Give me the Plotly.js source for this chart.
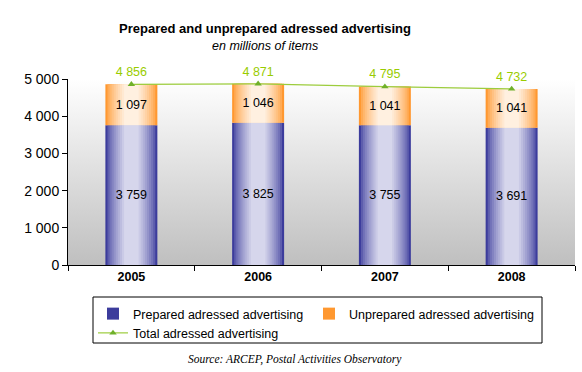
<!DOCTYPE html>
<html><head><meta charset="utf-8">
<script src="https://cdn.plot.ly/plotly-3.0.1.min.js"></script>
<style>html,body{margin:0;padding:0;background:#fff}#chart{width:582px;height:372px}</style>
</head><body><div id="chart"></div>
<script>
var years = ['2005', '2006', '2007', '2008'];
var prepared = [3759, 3825, 3755, 3691];
var unprepared = [1097, 1046, 1041, 1041];
var totals = [4856, 4871, 4795, 4732];
var yTicks = [0, 1000, 2000, 3000, 4000, 5000];
var yTickLabels = ['0', '1 000', '2 000', '3 000', '4 000', '5 000'];

function fmt(v){ return String(v).replace(/\B(?=(\d{3})+(?!\d))/g, ' '); }
function mix(a, b, t){
  var r = Math.round(a[0] + (b[0]-a[0])*t), g = Math.round(a[1] + (b[1]-a[1])*t), bl = Math.round(a[2] + (b[2]-a[2])*t);
  return 'rgb(' + r + ',' + g + ',' + bl + ')';
}
var blueDark = [60,60,156], blueLight = [214,214,236];
var orDark = [255,152,48], orLight = [255,240,224];
var BW = 0.41, LAYERS = 10;
var traces = [];
for (var k = 0; k < LAYERS; k++) {
  var t = Math.pow(k/(LAYERS-1), 0.7);
  var w = BW * (1 - k/(LAYERS) * 0.8);
  var last = (k === LAYERS-1);
  traces.push({
    type: 'bar', x: years, y: prepared, width: w,
    marker: {color: mix(blueDark, blueLight, t), line: {width: 0}},
    name: 'Prepared adressed advertising', legendgroup: 'p', legend: 'legend',
    showlegend: k === 0, hoverinfo: 'skip',
    text: last ? prepared.map(fmt) : null,
    textposition: last ? 'inside' : 'none', insidetextanchor: 'middle', textangle: 0,
    textfont: {family: 'Arial, Liberation Sans', size: 12.5, color: '#000'},
    constraintext: 'none', cliponaxis: false
  });
  traces.push({
    type: 'bar', x: years, y: unprepared, base: prepared, width: w,
    marker: {color: mix(orDark, orLight, t), line: {width: 0}},
    name: 'Unprepared adressed advertising', legendgroup: 'u', legend: 'legend2',
    showlegend: k === 0, hoverinfo: 'skip',
    text: last ? unprepared.map(fmt) : null,
    textposition: last ? 'inside' : 'none', insidetextanchor: 'middle', textangle: 0,
    textfont: {family: 'Arial, Liberation Sans', size: 12.5, color: '#000'},
    constraintext: 'none', cliponaxis: false
  });
}
traces.push({
  type: 'scatter', mode: 'lines+markers+text', x: years, y: totals,
  name: 'Total adressed advertising', legend: 'legend',
  line: {color: '#9ccc3c', width: 1.2},
  marker: {symbol: 'triangle-up', size: 6.5, color: '#6fb02a'},
  text: totals.map(fmt), textposition: 'top center',
  textfont: {family: 'Arial, Liberation Sans', size: 12.5, color: '#99cc00'},
  cliponaxis: false, hoverinfo: 'skip'
});

var bgSvg = '<svg xmlns="http://www.w3.org/2000/svg" width="10" height="100" preserveAspectRatio="none"><defs><linearGradient id="g" x1="0" y1="0" x2="0" y2="1"><stop offset="0" stop-color="#ffffff"/><stop offset="1" stop-color="#bfbfbf"/></linearGradient></defs><rect width="10" height="100" fill="url(#g)"/></svg>';

var legendBase = {
  orientation: 'v', xanchor: 'left', yanchor: 'top',
  borderwidth: 0, bgcolor: 'rgba(0,0,0,0)',
  font: {size: 12.5, color: '#000'}, traceorder: 'normal', itemwidth: 30, tracegroupgap: 0
};
function mkLegend(x, y){ var o = JSON.parse(JSON.stringify(legendBase)); o.x = x; o.y = y; return o; }

var layout = {
  width: 582, height: 372,
  margin: {l: 68, r: 7, t: 79, b: 107},
  paper_bgcolor: '#ffffff', plot_bgcolor: 'rgba(0,0,0,0)',
  barmode: 'overlay', showlegend: true,
  font: {family: 'Arial, Liberation Sans, sans-serif', size: 12, color: '#000'},
  title: {text: '<b>Prepared and unprepared adressed advertising</b>', x: 265/582, xanchor: 'center', xref: 'container', y: 1 - 28/372, yref: 'container', yanchor: 'middle', font: {size: 13, color: '#000'}},
  annotations: [
    {text: '<i>en millions of items</i>', xref: 'paper', yref: 'paper', x: (265-68)/507, y: (265-46)/186, xanchor: 'center', yanchor: 'middle', showarrow: false, font: {size: 12.5, color: '#000'}},
    {text: '<i>Source: ARCEP, Postal Activities Observatory</i>', xref: 'paper', yref: 'paper', x: (295-68)/507, y: (265-359)/186, xanchor: 'center', yanchor: 'middle', showarrow: false, font: {family: 'Liberation Serif, Times New Roman, serif', size: 11.5, color: '#000'}}
  ],
  shapes: [
    {type: 'rect', xref: 'paper', yref: 'paper', x0: (93-68)/507, x1: (542-68)/507, y0: (265-297)/186, y1: (265-343)/186, line: {color: '#000', width: 1}, fillcolor: 'rgba(0,0,0,0)', layer: 'above'}
  ],
  images: [{source: 'data:image/svg+xml;charset=utf-8,' + encodeURIComponent(bgSvg), xref: 'paper', yref: 'paper', x: 0, y: 1, sizex: 1, sizey: 1, sizing: 'stretch', xanchor: 'left', yanchor: 'top', layer: 'below'}],
  xaxis: {
    type: 'category', showgrid: false, zeroline: false,
    showline: true, linecolor: '#000', linewidth: 1,
    ticks: 'outside', ticklen: 5, tickcolor: '#000', tickson: 'boundaries',
    tickfont: {size: 12.5, color: '#000'},
    tickvals: years, ticktext: years.map(function(y){return '<b>' + y + '</b>';}),
    range: [-0.5, 3.5], fixedrange: true
  },
  yaxis: {
    range: [0, 5000], showgrid: false, zeroline: false,
    showline: true, linecolor: '#000', linewidth: 1,
    ticks: 'outside', ticklen: 5, tickcolor: '#000',
    tickvals: yTicks, ticktext: yTickLabels,
    tickfont: {size: 14, color: '#000'}, fixedrange: true
  },
  legend: mkLegend((93-68)/507, (265-299)/186),
  legend2: mkLegend((309-68)/507, (265-299)/186)
};
Plotly.newPlot('chart', traces, layout, {displayModeBar: false, staticPlot: true});
</script></body></html>
